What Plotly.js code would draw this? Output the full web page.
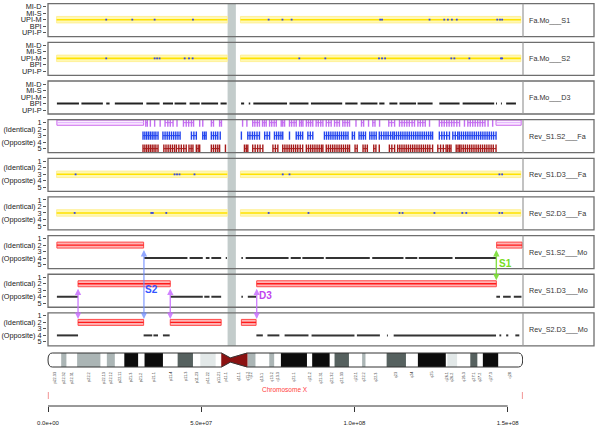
<!DOCTYPE html>
<html>
<head>
<meta charset="utf-8">
<script src="https://cdn.plot.ly/plotly-3.0.1.min.js"></script>
<style>html,body{margin:0;padding:0;background:#fff}#chart{width:600px;height:428px}</style>
</head>
<body>
<div id="chart"></div>
<script>
// positions on chromosome X in Mb
const panelNames = ['Fa.Mo___S1', 'Fa.Mo___S2', 'Fa.Mo___D3', 'Rev_S1.S2___Fa', 'Rev_S1.D3___Fa',
    'Rev_S2.D3___Fa', 'Rev_S1.S2___Mo', 'Rev_S1.D3___Mo', 'Rev_S2.D3___Mo'];
const inheritLabels = ['MI-D', 'MI-S', 'UPI-M', 'BPI', 'UPI-P'];
const stateLabels = ['1', '(Identical) 2', '3', '(Opposite) 4', '5'];
const xTickVals = [0, 50, 100, 150];
const xTickText = ['0.0e+00', '5.0e+07', '1.0e+08', '1.5e+08'];
const centroGap = [58.6, 61.3];

// yellow runs at level 3 (UPI-M / state 3) and the blue calls inside them
const yellowRuns = [[2.8, 58.5], [62.8, 154.3]];
const blueFaMoS1 = [19.0, 27.5, 34.8, 47.3, 72.0, 76.5, 79.5, 108.4, 109.0, 124.5, 129.3, 130.5, 131.8, 133.4, 146.6, 147.5, 148.2];
const blueFaMoS2 = [19.0, 34.8, 35.6, 36.4, 44.6, 46.0, 47.2, 82.0, 90.5, 108.0, 109.0, 110.0, 131.6, 132.6, 137.5, 147.8, 148.2];
const blueRevS1D3Fa = [9.0, 41.3, 42.1, 42.9, 47.8, 76.6, 78.8, 147.3, 148.2];
const blueRevS2D3Fa = [8.7, 33.7, 34.2, 38.6, 72.0, 85.0, 114.7, 115.7, 126.1, 135.2, 136.5, 147.3, 148.2];

// Fa.Mo___D3 : BPI runs
const bpiRuns = [[2.9, 10.1], [10.9, 17.9], [19.0, 20.1], [21.8, 31.0], [32.1, 36.4], [37.5, 40.8], [41.3, 45.1],
    [46.2, 49.5], [50.0, 55.5], [56.3, 58.3], [63.0, 64.0], [65.5, 66.0], [67.0, 78.0], [78.8, 85.0], [85.8, 96.0],
    [97.0, 101.0], [102.0, 107.5], [108.1, 109.8], [111.4, 114.0], [114.7, 120.1], [120.6, 125.5], [127.7, 134.3],
    [135.3, 145.6], [146.2, 146.5], [147.8, 148.1], [149.5, 152.7]];

// Rev_S1.S2___Fa
const violetBoxes = [[2.9, 31.2], [146.2, 154.4]];
const violetCalls = [[31.9, 32.4], [33.4], [34.8], [36.6], [38.2, 39.1, 39.9, 40.8], [42.1], [44.2, 45.1, 45.9, 46.8, 47.5],
    [49.5], [50.5], [53.3, 54.0], [56.0, 56.6], [63.5], [64.9], [66.8, 67.5, 68.3, 69.0], [70.0, 70.6, 71.2],
    [72.3, 73.0, 73.8, 74.5], [76.1, 76.6, 77.2], [78.8, 79.5, 80.3, 81.0], [82.1, 82.7, 83.2], [84.3, 85.0, 85.7, 86.4],
    [87.5, 88.2, 89.0, 89.7], [90.8, 91.6, 92.4], [93.5, 94.3, 95.1], [96.2, 96.9, 97.7, 98.4], [100.5], [102.3, 103.0],
    [104.6], [106.0, 106.7], [108.2], [111.2, 112.1, 113.1], [114.7, 115.5, 116.3, 117.1, 117.9, 118.8, 119.6],
    [120.7, 121.5, 122.3, 123.1], [124.5], [127.7, 128.5, 129.3, 130.1, 130.9, 131.7, 132.5, 133.4, 134.3], [135.9],
    [137.0, 137.8, 138.6, 139.4, 140.2, 141.0, 141.8, 142.6], [143.6], [145.1]];
const blueCalls = [[31.0, 31.6, 32.2, 32.8, 33.4, 34.0, 34.6, 35.2, 35.9], [37.5, 38.2, 38.9, 39.6, 40.3, 41.0, 41.7, 42.4, 43.1],
    [46.8, 47.6, 48.4], [50.5, 51.1, 51.6], [53.3, 54.0, 54.7, 55.4], [56.2], [63.1], [65.2, 65.9, 66.7, 67.4, 68.2, 69.0],
    [70.7, 71.5, 72.3], [73.9, 74.6, 75.3, 76.0, 76.6], [78.8], [81.0, 81.7, 82.4, 83.1], [84.8, 85.6, 86.4],
    [90.2, 90.9, 91.6, 92.3, 93.0, 93.7, 94.4, 95.1, 95.8, 96.5, 97.2, 97.9], [99.3, 100.0], [101.5, 102.2, 102.9, 103.6],
    [105.0, 105.7, 106.4, 107.1], [108.1, 108.8, 109.6, 110.3, 111.0, 111.8, 112.5],
    [113.0, 113.7, 114.4, 115.1, 115.8, 116.5, 117.2, 117.9, 118.6, 119.3, 120.0, 120.7, 121.4, 122.1, 122.8, 123.5, 124.2, 124.9, 125.5],
    [127.7, 128.5, 129.3, 130.1, 131.0], [132.1, 132.9, 133.7],
    [134.2, 134.9, 135.6, 136.3, 137.0, 137.7, 138.4, 139.1, 139.8, 140.5, 141.2, 141.9, 142.6, 143.3, 144.0, 144.7, 145.4, 146.2]];
const darkRedCalls = [[31.0, 31.6, 32.2, 32.8, 33.4, 34.0, 34.6, 35.2, 35.9], [37.8, 38.5, 39.2, 39.9, 40.6, 41.3],
    [41.9, 42.7, 43.5, 44.3, 45.1], [46.0, 46.7, 47.3], [48.4, 49.0, 49.5], [53.3, 54.0, 54.7, 55.4, 56.0], [57.9],
    [64.1, 64.7, 65.2], [66.8, 67.6, 68.4, 69.2, 70.1], [73.4, 74.2, 75.0],
    [76.6, 77.3, 78.0, 78.7, 79.4, 80.1, 80.8, 81.5, 82.3, 83.1], [84.3, 85.0, 85.7, 86.4, 87.1, 87.8, 88.5, 89.2, 89.7],
    [90.8, 91.5, 92.2, 92.9, 93.6, 94.3, 95.0, 95.7, 96.4, 97.1, 97.8, 98.4], [100.2, 100.9], [102.8, 103.5, 104.2],
    [106.3, 107.0], [108.1], [111.4, 112.2, 113.1],
    [114.1, 114.8, 115.5, 116.2, 116.9, 117.6, 118.3, 119.0, 119.7, 120.4, 121.1, 121.8, 122.5, 123.2, 123.9, 124.6, 125.5],
    [127.2, 128.1, 129.0, 129.9], [130.4, 131.0, 131.5], [133.2, 133.8, 134.3],
    [134.8, 135.5, 136.2, 136.9, 137.6, 138.3, 139.0, 139.7, 140.4, 141.1, 141.8, 142.5, 143.2, 143.9, 144.6, 145.3, 146.2]];

// mother panels: identical (level 2) boxes and opposite (level 4) runs
const redS1S2Mo = [[2.9, 31.2], [146.4, 154.7]];
const oppS1S2Mo = [[31.4, 45.5], [46.2, 50.5], [51.5, 52.7], [53.3, 56.5], [58.0, 58.4], [63.1, 63.6], [64.5, 78.5],
    [79.2, 82.5], [83.0, 90.0], [90.6, 105.0], [105.8, 116.0], [116.6, 120.5], [121.0, 132.0], [132.8, 146.2]];
const redS1D3Mo = [[9.8, 39.9], [68.1, 146.3]];
const oppS1D3Mo = [[2.9, 9.8], [39.9, 50.5], [51.0, 52.7], [53.3, 56.5], [63.1, 63.6], [65.2, 67.9],
    [146.3, 147.5], [148.5, 151.0], [152.0, 154.5]];
const redS2D3Mo = [[9.8, 31.2], [39.9, 56.5], [63.1, 67.9]];
const oppS2D3Mo = [[2.9, 9.8], [31.2, 34.0], [34.4, 35.9], [37.5, 39.7], [68.0, 70.1], [71.6, 75.5], [77.2, 85.0],
    [86.0, 100.0], [100.8, 108.3], [110.6, 110.9], [112.8, 146.2], [147.3, 147.9], [149.5, 150.2], [152.5, 153.8]];

// switch points
const switchS2 = 31.3, switchS1 = 146.3;
const switchD3 = [9.8, 39.9, 68.1];

// cytobands (NCBI36)
const bandNames = ['p22.33', 'p22.32', 'p22.31', 'p22.2', 'p22.13', 'p22.12', 'p22.11', 'p21.3', 'p21.2', 'p21.1',
    'p11.4', 'p11.3', 'p11.23', 'p11.22', 'p11.21', 'p11.1', 'q11.1', 'q11.2', 'q12', 'q13.1', 'q13.2', 'q13.3',
    'q21.1', 'q21.2', 'q21.31', 'q21.32', 'q21.33', 'q22.1', 'q22.2', 'q22.3', 'q23', 'q24', 'q25', 'q26.1',
    'q26.2', 'q26.3', 'q27.1', 'q27.2', 'q27.3', 'q28'];
const bandStarts = [0, 4.3, 6.0, 9.5, 17.1, 19.2, 21.8, 24.9, 29.4, 31.5, 37.5, 42.3, 47.3, 49.7, 54.7, 56.6, 59.5,
    65.0, 65.1, 67.7, 72.2, 73.8, 76.0, 84.5, 86.2, 91.9, 93.5, 98.2, 102.5, 103.6, 110.5, 116.8, 120.7, 129.8,
    130.3, 133.5, 137.8, 140.1, 141.9, 146.9];
const bandEnds = [4.3, 6.0, 9.5, 17.1, 19.2, 21.8, 24.9, 29.4, 31.5, 37.5, 42.3, 47.3, 49.7, 54.7, 56.6, 59.5, 65.0,
    65.1, 67.7, 72.2, 73.8, 76.0, 84.5, 86.2, 91.9, 93.5, 98.2, 102.5, 103.6, 110.5, 116.8, 120.7, 129.8, 130.3,
    133.5, 137.8, 140.1, 141.9, 146.9, 154.9];
const bandStains = ['gneg', 'gpos50', 'gneg', 'gpos50', 'gneg', 'gpos50', 'gneg', 'gpos100', 'gneg', 'gpos100',
    'gneg', 'gpos75', 'gneg', 'gpos25', 'gneg', 'acen', 'acen', 'gneg', 'gpos50', 'gneg', 'gpos50', 'gneg',
    'gpos100', 'gneg', 'gpos100', 'gneg', 'gpos75', 'gneg', 'gpos50', 'gneg', 'gpos75', 'gneg', 'gpos100', 'gneg',
    'gpos25', 'gneg', 'gpos75', 'gneg', 'gpos100', 'gneg'];

const stainColor = { gneg: '#ffffff', gpos25: '#e2e8e8', gpos50: '#abb5b5', gpos75: '#56615f', gpos100: '#0c0c0c', acen: '#8b1212' };

// page geometry (pixels)
const H = 428;
const toPaper = py => 1 - py / H;
const panelTop = i => 3.7 + 38.65 * i;
const PANEL_H = 33;
const levelPx = (i, lv) => panelTop(i) + 3 + (lv - 1) * 6.5;
const pxX = px => (px - 47) / 476;
const ideoTop = 353, ideoBot = 367, ideoPad = 0.08;

const traces = [];
const yName = i => i === 0 ? 'y' : 'y' + (i + 1);

function boxes(i, segs, lv, half, fill, line, lw) {
    const x = [], y = [];
    segs.forEach(([s, e]) => {
        x.push(s, e, e, s, s, null);
        y.push(lv - half, lv - half, lv + half, lv + half, lv - half, null);
    });
    traces.push({ type: 'scatter', mode: 'lines', x, y, yaxis: yName(i), fill: 'toself', fillcolor: fill,
        line: { color: line, width: lw }, hoverinfo: 'skip' });
}
function runs(i, segs, lv, color, w) {
    const x = [], y = [];
    segs.forEach(([s, e]) => { x.push(s, e, null); y.push(lv, lv, null); });
    traces.push({ type: 'scatter', mode: 'lines', x, y, yaxis: yName(i), line: { color, width: w }, hoverinfo: 'skip' });
}
function dots(i, xs, lv, color) {
    traces.push({ type: 'scatter', mode: 'markers', x: xs, y: xs.map(() => lv), yaxis: yName(i),
        marker: { color, size: 1.8, symbol: 'square' }, hoverinfo: 'skip' });
}
function clusters(i, groups, lv, color) {
    const x = [], y = [];
    groups.forEach(g => { g.forEach(v => { x.push(v); y.push(lv); }); x.push(null); y.push(null); });
    traces.push({ type: 'scatter', mode: 'lines+markers', x, y, yaxis: yName(i), line: { color, width: 1 },
        marker: { symbol: 'line-ns-open', size: 6, line: { color, width: 1.4 } }, hoverinfo: 'skip' });
}
function yellowPanel(i, blues) {
    boxes(i, yellowRuns, 3, 0.5, '#fff8b4', '#ffee88', 0.8);
    runs(i, yellowRuns, 3, '#ffe200', 1.6);
    dots(i, blues, 3, '#3344ee');
}
function motherPanel(i, reds, opp) {
    boxes(i, reds, 2, 0.46, '#ffb4b4', '#ff4a4a', 1);
    runs(i, reds, 2, '#ff1a1a', 1.4);
    runs(i, opp, 4, '#333333', 2);
}

yellowPanel(0, blueFaMoS1);
yellowPanel(1, blueFaMoS2);
runs(2, bpiRuns, 4, '#222222', 2);
boxes(3, violetBoxes, 1, 0.4, '#fbeeff', '#cc66ee', 1);
runs(3, violetBoxes, 1, '#e2b0ff', 1);
clusters(3, violetCalls, 1, '#c46ef0');
clusters(3, blueCalls, 3, '#2244ee');
clusters(3, darkRedCalls, 5, '#a51a1a');
yellowPanel(4, blueRevS1D3Fa);
yellowPanel(5, blueRevS2D3Fa);
motherPanel(6, redS1S2Mo, oppS1S2Mo);
motherPanel(7, redS1D3Mo, oppS1D3Mo);
motherPanel(8, redS2D3Mo, oppS2D3Mo);

// ideogram bands, grouped by stain
Object.keys(stainColor).filter(k => k !== 'acen').forEach(stain => {
    const x = [], y = [];
    bandNames.forEach((n, k) => {
        if (bandStains[k] !== stain) return;
        const s = bandStarts[k], e = bandEnds[k];
        x.push(s, e, e, s, s, null); y.push(0, 0, 1, 1, 0, null);
    });
    if (x.length) traces.push({ type: 'scatter', mode: 'lines', x, y, yaxis: 'y10', fill: 'toself',
        fillcolor: stainColor[stain], line: { width: 0 }, hoverinfo: 'skip' });
});
{
    const x = [], y = [];
    bandNames.forEach((n, k) => {
        if (bandStains[k] !== 'acen') return;
        const s = bandStarts[k], e = bandEnds[k];
        if (n[0] === 'p') { x.push(s, e, e, s, s, null); y.push(0, 0.35, 0.65, 1, 0, null); }
        else { x.push(s, e, e, s, s, null); y.push(0.35, 0, 1, 0.65, 0.35, null); }
    });
    traces.push({ type: 'scatter', mode: 'lines', x, y, yaxis: 'y10', fill: 'toself',
        fillcolor: stainColor.acen, line: { color: stainColor.acen, width: 0.5 }, hoverinfo: 'skip' });
}

const chrLen = bandEnds[bandEnds.length - 1];
const acen = bandNames.map((n, k) => k).filter(k => bandStains[k] === 'acen');
const cs = bandStarts[acen[0]], cm = bandEnds[acen[0]], ce = bandEnds[acen[1]];
const r = 1.4;
const outline = `M ${r},1 L ${cs},1 L ${cm},0.65 L ${ce},1 L ${chrLen - r},1 Q ${chrLen},1 ${chrLen},0.5 ` +
    `Q ${chrLen},0 ${chrLen - r},0 L ${ce},0 L ${cm},0.35 L ${cs},0 L ${r},0 Q 0,0 0,0.5 Q 0,1 ${r},1 Z`;

const shapes = [
    { type: 'rect', xref: 'x', yref: 'paper', x0: centroGap[0], x1: centroGap[1],
      y0: toPaper(panelTop(8) + PANEL_H), y1: toPaper(panelTop(0)), fillcolor: '#c3cccb', line: { width: 0 }, layer: 'below' },
    { type: 'path', xref: 'x', yref: 'y10', path: outline, line: { color: '#333', width: 1 } },
    { type: 'line', xref: 'x', yref: 'paper', x0: xTickVals[0], x1: xTickVals[xTickVals.length - 1],
      y0: toPaper(406), y1: toPaper(406), line: { color: '#333', width: 1 } },
    { type: 'line', xref: 'x', yref: 'paper', x0: 0.1, x1: 0.1, y0: toPaper(392), y1: toPaper(399), line: { color: '#f29494', width: 1 } },
    { type: 'line', xref: 'x', yref: 'paper', x0: chrLen - 0.1, x1: chrLen - 0.1, y0: toPaper(392), y1: toPaper(399), line: { color: '#f29494', width: 1 } }
];

const annotations = [];
const layout = {
    width: 600, height: 428,
    margin: { l: 47, r: 77, t: 0, b: 0 },
    paper_bgcolor: '#ffffff', plot_bgcolor: 'rgba(0,0,0,0)',
    showlegend: false,
    font: { family: 'Liberation Sans, Arial, sans-serif', color: '#222' },
    xaxis: {
        domain: [0, 1], range: [-0.33, 155], anchor: 'free', position: toPaper(406),
        showgrid: false, zeroline: false, showline: false, ticks: 'outside', ticklen: 5, tickcolor: '#333',
        tickvals: xTickVals, ticktext: xTickText, tickfont: { size: 6, color: '#222' }, ticklabelstandoff: 6
    },
    yaxis10: {
        anchor: 'x', domain: [toPaper(ideoBot + 14 * ideoPad), toPaper(ideoTop - 14 * ideoPad)],
        range: [-ideoPad, 1 + ideoPad], showgrid: false, zeroline: false, showticklabels: false, ticks: ''
    },
    shapes, annotations
};

panelNames.forEach((name, i) => {
    const top = panelTop(i);
    layout['yaxis' + (i ? i + 1 : '')] = {
        anchor: 'x', domain: [toPaper(top + PANEL_H), toPaper(top)],
        range: [5 + 4 / 6.5, 1 - 3 / 6.5], showgrid: false, zeroline: false, showline: false,
        tickvals: [1, 2, 3, 4, 5], ticktext: i < 3 ? inheritLabels : stateLabels,
        ticks: 'outside', ticklen: 3, tickcolor: '#555', tickfont: { size: 7.3, color: '#222' }
    };
    shapes.push({ type: 'rect', xref: 'paper', yref: 'paper', x0: pxX(48), x1: pxX(594),
        y0: toPaper(top + PANEL_H), y1: toPaper(top), line: { color: '#6e6e6e', width: 1.3 } });
    shapes.push({ type: 'line', xref: 'paper', yref: 'paper', x0: 1, x1: 1,
        y0: toPaper(top + PANEL_H), y1: toPaper(top), line: { color: '#999', width: 1.2 } });
    annotations.push({ text: name, xref: 'paper', yref: 'paper', x: pxX(527), xanchor: 'left',
        y: toPaper(top + PANEL_H / 2), yanchor: 'middle', showarrow: false, font: { size: 7.2, color: '#333' } });
});

bandNames.forEach((n, k) => {
    annotations.push({ text: n, xref: 'x', yref: 'paper', x: (bandStarts[k] + bandEnds[k]) / 2, y: toPaper(370),
        yanchor: 'top', xanchor: 'center', textangle: -90, showarrow: false, font: { size: 3.8, color: '#333' } });
});
annotations.push({ text: 'Chromosome X', xref: 'paper', yref: 'paper', x: 0.5, y: toPaper(395),
    showarrow: false, font: { size: 6.5, color: '#ff4040' } });

function arrow(x, tailPx, headPx, color) {
    annotations.push({ text: '', xref: 'x', yref: 'paper', x, y: toPaper(headPx), axref: 'pixel', ayref: 'pixel',
        ax: 0, ay: tailPx - headPx, showarrow: true, arrowside: 'end+start', arrowhead: 2, startarrowhead: 2,
        arrowsize: 0.9, startarrowsize: 0.9, arrowwidth: 1.4, arrowcolor: color });
}
function tag(text, x, py, color) {
    annotations.push({ text: '<b>' + text + '</b>', xref: 'x', yref: 'paper', x, y: toPaper(py),
        showarrow: false, font: { size: 10, color } });
}
arrow(switchS2, levelPx(6, 2) + 3.5, levelPx(8, 2) - 3.5, 'rgba(110,140,255,0.75)');
switchD3.forEach(x => arrow(x, levelPx(7, 2) + 3.5, levelPx(8, 2) - 3.5, 'rgba(200,110,255,0.85)'));
arrow(switchS1, levelPx(6, 2) + 3.5, levelPx(7, 2) - 3.5, 'rgba(120,220,50,0.9)');
tag('S2', switchS2 + 2.5, 297, '#3355ff');
tag('D3', switchD3[2] + 3, 303, '#c044ee');
tag('S1', switchS1 + 3, 263, '#77dd22');

Plotly.newPlot('chart', traces, layout, { displayModeBar: false, staticPlot: true });
</script>
</body>
</html>
